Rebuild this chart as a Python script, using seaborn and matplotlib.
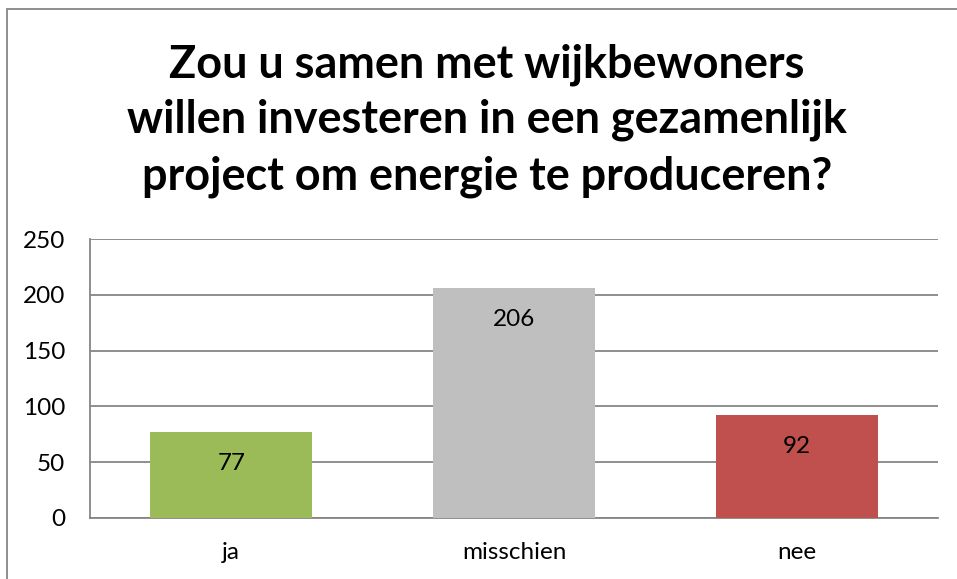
import matplotlib
matplotlib.use("Agg")
import matplotlib.pyplot as plt
import seaborn as sns
import pandas as pd
from matplotlib.patches import Rectangle

categories = ["ja", "misschien", "nee"]
values = [77, 206, 92]
colors = ["#9BBB59", "#BFBFBF", "#C0504D"]
title_lines = ["Zou u samen met wijkbewoners",
               "willen investeren in een gezamenlijk",
               "project om energie te produceren?"]
yticks = [0, 50, 100, 150, 200, 250]

sns.set_theme(style="white")
plt.rcParams['font.family'] = ['Lato', 'DejaVu Sans']

df = pd.DataFrame({"cat": categories, "val": values})

fig = plt.figure(figsize=(9.57, 5.79), dpi=100)
ax = fig.add_axes([90/957, 61/579, 848/957, 279/579])

sns.barplot(data=df, x="cat", y="val", hue="cat", palette=colors, legend=False,
            width=0.573, ax=ax, saturation=1, zorder=3, linewidth=0)

ax.set_ylim(0, 250)
ax.set_yticks(yticks)
ax.set_xlim(-0.5, 2.5)
ax.yaxis.grid(True, color="#868686", linewidth=1.3, zorder=0)
ax.set_axisbelow(True)
for s in ["top", "right"]:
    ax.spines[s].set_visible(False)
for s in ["left", "bottom"]:
    ax.spines[s].set_color("#868686")
    ax.spines[s].set_linewidth(1.3)
ax.set_xlabel("")
ax.set_ylabel("")
ax.tick_params(axis="both", length=0, labelsize=17.5, colors="black")
ax.tick_params(axis="y", pad=18)
ax.tick_params(axis="x", pad=17)

for c in ax.containers:
    for bar, v in zip(c, c.datavalues):
        ax.annotate(f"{int(v)}", (bar.get_x() + bar.get_width()/2, v),
                    xytext=(0, -31), textcoords="offset pixels",
                    ha="center", va="center", fontsize=17.5, color="black", zorder=5)

for i, line in enumerate(title_lines):
    fig.text(487/957, 1 - [65, 120, 177][i]/579, line, ha="center", va="center",
             fontsize=32.4, fontweight="bold", color="black")

fig.patches.append(Rectangle((7/957, -0.01), 1.0, 1 - 9/579 + 0.01, transform=fig.transFigure,
                             fill=False, edgecolor="#868686", linewidth=1.3))

fig.savefig("out.png", dpi=100)
